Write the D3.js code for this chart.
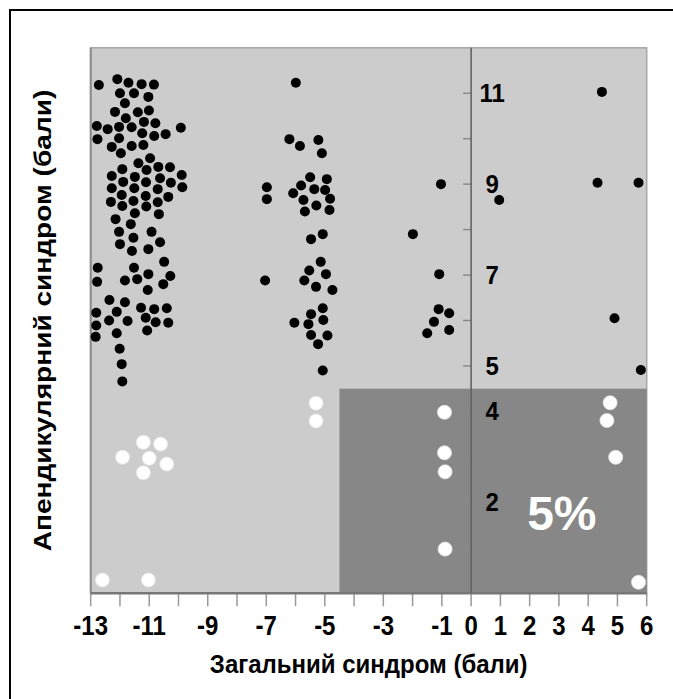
<!DOCTYPE html>
<html>

<head>
  <meta charset="UTF-8">
  <title>Апендикулярний синдром</title>
  <script src="https://d3js.org/d3.v7.min.js"></script>
  <style>
    body {
      margin: 0;
      background: #fff;
    }

    text {
      font-family: "Liberation Sans", Arial, sans-serif;
      font-weight: bold;
    }
  </style>
</head>

<body>
  <svg></svg>
</body>

<script>
  // black dots: [загальний, апендикулярний]
  let blackPoints = [
    [-12.72, 11.18], [-12.09, 11.31], [-11.71, 11.23], [-11.26, 11.20], [-10.84, 11.19],
    [-12.00, 11.00], [-11.52, 11.00], [-11.03, 10.92], [-11.83, 10.78], [-12.17, 10.59],
    [-11.39, 10.58], [-11.01, 10.62], [-11.80, 10.45], [-12.79, 10.28], [-12.42, 10.21],
    [-12.03, 10.26], [-11.60, 10.25], [-11.18, 10.37], [-10.79, 10.34], [-9.92, 10.24],
    [-11.24, 10.12], [-10.83, 10.06], [-10.44, 10.10], [-12.77, 9.99], [-12.03, 10.01],
    [-12.28, 9.82], [-11.60, 9.84], [-11.20, 9.86], [-11.97, 9.68], [-10.97, 9.57],
    [-11.37, 9.46], [-11.92, 9.33], [-11.09, 9.31], [-10.69, 9.38], [-10.29, 9.37],
    [-12.28, 9.18], [-11.49, 9.16], [-9.89, 9.20], [-11.89, 9.05], [-11.11, 9.04],
    [-10.63, 9.13], [-10.26, 9.03], [-12.28, 8.91], [-11.51, 8.91], [-10.71, 8.89],
    [-9.87, 8.93], [-11.94, 8.76], [-11.12, 8.74], [-10.35, 8.72], [-12.31, 8.61],
    [-11.54, 8.63], [-10.71, 8.60], [-11.92, 8.52], [-11.10, 8.51], [-11.49, 8.36],
    [-10.67, 8.34], [-12.15, 8.23], [-11.63, 8.12], [-12.03, 7.95], [-10.92, 7.95],
    [-11.54, 7.82], [-10.63, 7.72], [-12.00, 7.68], [-11.59, 7.53], [-11.03, 7.57],
    [-10.49, 7.29], [-12.76, 7.16], [-11.52, 7.16], [-11.03, 7.02], [-10.28, 6.98],
    [-12.78, 6.85], [-11.83, 6.88], [-11.41, 6.91], [-10.52, 6.80], [-11.05, 6.67],
    [-12.36, 6.45], [-11.83, 6.40], [-11.28, 6.28], [-10.83, 6.25], [-10.40, 6.27],
    [-12.81, 6.17], [-12.11, 6.19], [-12.37, 6.00], [-11.74, 5.99], [-11.12, 6.06],
    [-10.78, 5.96], [-10.35, 5.95], [-12.81, 5.89], [-11.07, 5.78], [-12.11, 5.72],
    [-12.83, 5.64], [-12.01, 5.38], [-11.94, 5.04], [-11.92, 4.66],
    [-5.99, 11.23], [-6.21, 9.99], [-5.85, 9.84], [-5.22, 9.97], [-5.10, 9.68],
    [-5.50, 9.15], [-4.93, 9.11], [-6.98, 8.93], [-5.81, 8.97], [-5.36, 8.89],
    [-4.99, 8.87], [-6.08, 8.80], [-6.98, 8.67], [-5.73, 8.65], [-4.82, 8.68],
    [-5.29, 8.53], [-5.68, 8.40], [-4.84, 8.43], [-5.07, 7.90], [-5.47, 7.79],
    [-5.14, 7.29], [-5.53, 7.10], [-4.96, 7.02], [-7.04, 6.88], [-5.70, 6.88],
    [-5.30, 6.74], [-4.74, 6.67], [-5.07, 6.27], [-5.47, 6.14], [-5.05, 6.01],
    [-6.04, 5.95], [-5.56, 5.92], [-5.47, 5.68], [-4.91, 5.67], [-5.23, 5.48],
    [-5.07, 4.90],
    [-1.03, 9.00], [-1.99, 7.90], [-1.09, 7.02], [-1.11, 6.25], [-0.75, 6.16],
    [-1.27, 5.97], [-0.75, 5.79], [-1.50, 5.72],
    [0.96, 8.65], [4.47, 11.03], [4.32, 9.03], [5.72, 9.03], [4.90, 6.05], [5.80, 4.91]
  ];

  // white dots
  let whitePoints = [
    [-11.20, 3.32], [-10.61, 3.28], [-11.91, 2.99], [-11.00, 2.97], [-10.40, 2.84],
    [-11.20, 2.65], [-12.60, 0.29], [-11.03, 0.29],
    [-5.30, 4.18], [-5.30, 3.79],
    [-0.91, 3.98], [-0.91, 3.09], [-0.89, 2.67], [-0.89, 0.97],
    [4.75, 4.19], [4.64, 3.80], [4.94, 2.99], [5.72, 0.24]
  ];

  let xTicks = d3.range(-13, 7);
  let xTickLabels = [-13, -11, -9, -7, -5, -3, -1, 0, 1, 2, 3, 4, 5, 6];
  let yTicks = d3.range(1, 12);
  let yTickLabels = [2, 4, 5, 7, 9, 11];

  // the dark zone and its share
  let zoneX = [-4.5, 6];
  let zoneY = [0, 4.5];
  let zoneLabel = "5%";

  let width = 673,
    height = 699;

  let svg = d3.select("svg")
    .attr("width", width)
    .attr("height", height)
    .attr("viewBox", "0 0 " + width + " " + height);

  let x = d3.scaleLinear().domain([-13, 6]).range([90.7, 646.7]);
  let y = d3.scaleLinear().domain([0, 12]).range([593.2, 47.8]);

  // outer frame
  svg.append("rect")
    .attr("x", 10)
    .attr("y", 10)
    .attr("width", 720)
    .attr("height", 720)
    .attr("fill", "none")
    .attr("stroke", "#000")
    .attr("stroke-width", 2);

  // plot background
  svg.append("rect")
    .attr("x", x(-13))
    .attr("y", y(12))
    .attr("width", x(6) - x(-13))
    .attr("height", y(0) - y(12))
    .attr("fill", "#cccccc")
    .attr("stroke", "#a6a6a6")
    .attr("stroke-width", 1.5);

  svg.append("rect")
    .attr("x", x(zoneX[0]))
    .attr("y", y(zoneY[1]))
    .attr("width", x(zoneX[1]) - x(zoneX[0]))
    .attr("height", y(zoneY[0]) - y(zoneY[1]))
    .attr("fill", "#878787");

  svg.append("text")
    .attr("x", x(3.1))
    .attr("y", y(1.38))
    .attr("text-anchor", "middle")
    .attr("fill", "#fff")
    .style("font-size", "48px")
    .text(zoneLabel);

  // left border a bit darker
  svg.append("line")
    .attr("x1", x(-13)).attr("x2", x(-13))
    .attr("y1", y(0)).attr("y2", y(12))
    .attr("stroke", "#8c8c8c")
    .attr("stroke-width", 2);

  // x axis
  let xAxis = svg.append("g").attr("id", "x-axis");

  xAxis.selectAll("line.tick")
    .data(xTicks)
    .enter()
    .append("line")
    .attr("class", "tick")
    .attr("x1", d => x(d)).attr("x2", d => x(d))
    .attr("y1", y(0)).attr("y2", y(0) + 13)
    .attr("stroke", "#999")
    .attr("stroke-width", 1.5);

  xAxis.append("line")
    .attr("x1", x(-13)).attr("x2", x(6))
    .attr("y1", y(0)).attr("y2", y(0))
    .attr("stroke", "#777")
    .attr("stroke-width", 2.5);

  // labels look a little taller than wide in the original
  xAxis.selectAll("text")
    .data(xTickLabels)
    .enter()
    .append("text")
    .attr("transform", d => "translate(" + x(d) + "," + (y(0) + 42) + ") scale(1,1.12)")
    .attr("text-anchor", "middle")
    .style("font-size", "24px")
    .text(d => d);

  // y axis on zero
  let yAxis = svg.append("g").attr("id", "y-axis");

  yAxis.selectAll("line.tick")
    .data(yTicks)
    .enter()
    .append("line")
    .attr("class", "tick")
    .attr("x1", x(0) - 8).attr("x2", x(0))
    .attr("y1", d => y(d)).attr("y2", d => y(d))
    .attr("stroke", "#8a8a8a")
    .attr("stroke-width", 1.5);

  yAxis.append("line")
    .attr("x1", x(0)).attr("x2", x(0))
    .attr("y1", y(0)).attr("y2", y(12))
    .attr("stroke", "#5e5e5e")
    .attr("stroke-width", 1.5);

  yAxis.selectAll("text")
    .data(yTickLabels)
    .enter()
    .append("text")
    .attr("transform", d => "translate(" + (x(0) + 21) + "," + (y(d) + 9) + ") scale(1,1.1)")
    .attr("text-anchor", "middle")
    .style("font-size", "24px")
    .text(d => d);

  // dots
  svg.append("g")
    .attr("id", "white-dots")
    .selectAll("circle")
    .data(whitePoints)
    .enter()
    .append("circle")
    .attr("cx", d => x(d[0]))
    .attr("cy", d => y(d[1]))
    .attr("r", 7)
    .attr("fill", "#fff")
    .attr("stroke", "#e6e6e6")
    .attr("stroke-width", 0.8);

  svg.append("g")
    .attr("id", "black-dots")
    .selectAll("circle")
    .data(blackPoints)
    .enter()
    .append("circle")
    .attr("cx", d => x(d[0]))
    .attr("cy", d => y(d[1]))
    .attr("r", 5)
    .attr("fill", "#000");

  // axis titles
  svg.append("text")
    .attr("transform", "translate(" + (x(-13) + x(6)) / 2 + ",673) scale(1,1.1)")
    .attr("text-anchor", "middle")
    .style("font-size", "24px")
    .text("Загальний синдром (бали)");

  svg.append("text")
    .attr("transform", "translate(51," + (y(0) + y(12)) / 2 + ") rotate(-90) scale(1.17,1)")
    .attr("text-anchor", "middle")
    .style("font-size", "24px")
    .text("Апендикулярний синдром (бали)");
</script>

</html>
